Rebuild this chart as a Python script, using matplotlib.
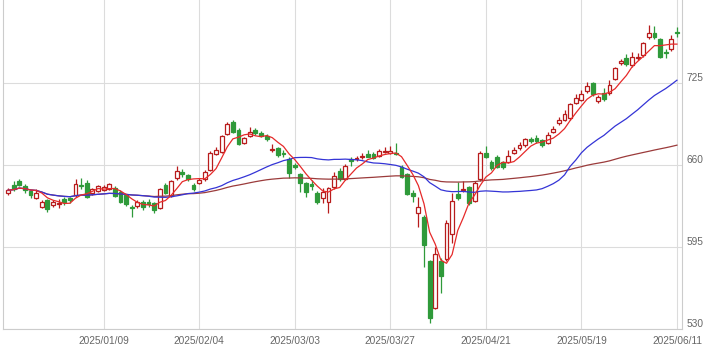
import numpy as np
import pandas as pd
import matplotlib
matplotlib.use("Agg")
import matplotlib.pyplot as plt

# daily OHLC (oldest -> newest)
open_ = [638, 644, 647, 643, 639, 634, 626.5, 632, 628, 629,
         633, 634, 636.5, 644, 646, 637.6, 639.4, 640.2, 640.7, 641.8,
         638.8, 636.2, 627, 627.7, 630.9, 631, 629.5, 625.7, 643.8, 635.8,
         649.5, 654.7, 651.7, 644.5, 646.1, 648.7, 656, 668.5, 670.6, 684.6,
         693.8, 688.1, 677.7, 683, 687.7, 685.6, 682.6, 672, 673.2, 669.9,
         664.5, 660, 652.9, 645.5, 645.3, 637.6, 633.6, 630.9, 642.3, 655.5,
         648.9, 664.5, 664.5, 666.1, 668.7, 668.7, 667.4, 670.4, 669.3, 669.9,
         658.7, 652.6, 638, 621.7, 618.5, 583.9, 546.4, 583.9, 585.2, 605.1,
         637, 639.8, 642.4, 631.5, 648.7, 669.3, 662.6, 666.6, 662.6, 662.6,
         669.8, 673.2, 675.9, 680.4, 681.2, 679.8, 677.7, 686.4, 693.1, 695.7,
         697, 709.4, 711.5, 718.3, 724.8, 710.5, 716.7, 716.7, 727.8, 740.6,
         745.1, 739.3, 744.7, 747.2, 761.2, 764.4, 759.6, 749.8, 751.7, 765.2]
high = [642, 647, 649, 645, 640, 641, 632, 633, 632, 633,
        635, 635, 649, 650, 648, 641.5, 644.5, 644, 646, 643,
        640, 637, 628.3, 632, 632, 633, 630.5, 641.5, 645.7, 648,
        659.2, 656.8, 653, 646, 649.5, 656, 671, 674.5, 684, 694.3,
        695.7, 689, 682.5, 690.1, 689.3, 687, 684.5, 676.6, 674.3, 671.9,
        666.3, 661.6, 654, 646.5, 648.1, 639, 641.8, 642.5, 654.7, 657.5,
        660.5, 666, 667.5, 669.8, 671.9, 670, 672.5, 674.5, 675.1, 677.2,
        660, 653.5, 640.2, 634.9, 620.4, 585, 595.2, 586, 616.4, 637.6,
        646.8, 647.6, 643.5, 647.3, 671, 675.1, 664, 668, 663.5, 671.9,
        674.5, 678.5, 681.5, 682.4, 683.8, 681, 686.4, 690.9, 697.8, 703.6,
        709, 716.3, 719.5, 726, 726, 715.5, 721, 727.4, 738, 744,
        747.8, 749.3, 748.8, 757.5, 771, 770.2, 761, 752, 763, 769.4]
low = [636, 639, 643, 638, 634, 633, 626, 623, 626.5, 626,
       628, 630, 635, 641, 634, 636.5, 638.5, 639, 640, 634.5,
       630, 627.5, 619, 626, 624, 626.7, 622, 625, 637, 635,
       648.5, 650.5, 647, 639.4, 645, 647.5, 655, 668, 669.5, 683.5,
       685.5, 675.5, 676.5, 682, 683.8, 682, 679, 670.3, 666.3, 666.3,
       649.5, 656.8, 638.8, 634.9, 640.2, 629, 630, 621.7, 641, 647.5,
       648, 659, 663.5, 665, 666, 664.5, 666.5, 669.5, 668.5, 668,
       649.5, 636, 630.9, 611.1, 579.4, 534.5, 545.5, 558.8, 584, 598.2,
       632, 638.6, 628, 630.5, 647.5, 665.5, 656, 657.5, 656.5, 661.5,
       669, 672, 674.5, 677.2, 677.2, 674.5, 676.5, 685.5, 692, 694.5,
       696, 708.5, 710.5, 717, 715, 709.5, 711, 715.5, 727, 739.5,
       738.5, 738, 743, 746, 760, 760, 744.5, 744.8, 750.5, 761.5]
close = [640, 641, 644, 640, 636, 638, 631, 625, 630.5, 630,
         631, 632, 645, 643, 635, 640.6, 643, 642.8, 645, 635.4,
         630.9, 629.1, 625.7, 630.9, 627.1, 629, 624.7, 640.7, 637.8, 647.3,
         655.5, 652.6, 648.9, 640.6, 648.5, 654.7, 669.9, 671.9, 683, 692.5,
         686.4, 676.6, 681.2, 686.4, 685.1, 683, 681, 673, 667.9, 668.7,
         653.4, 658.7, 645.5, 638.8, 643.4, 630.4, 638.8, 641.5, 651.3, 648.9,
         659.2, 663.2, 665.5, 667.1, 666.6, 665.3, 671.3, 671.2, 671.1, 668.7,
         650.7, 637, 635.4, 626.5, 596.6, 538.5, 589.2, 572.3, 613.8, 631.5,
         633.6, 640.6, 629.6, 645.5, 669.8, 666.6, 657.4, 658.7, 658.2, 667.4,
         671.9, 675.9, 680.4, 679.3, 679.3, 675.9, 683.8, 688.3, 695.7, 700.4,
         708.1, 713.4, 716.3, 722.4, 716.1, 714.1, 712.2, 723.4, 736.7, 742.8,
         739.7, 745.9, 745.3, 756.5, 764.4, 761.2, 745.4, 748.5, 759.6, 764.4]

date_labels = ["2025/01/09", "2025/02/04", "2025/03/03", "2025/03/27",
               "2025/04/21", "2025/05/19", "2025/06/11"]
price_ticks = [530, 595, 660, 725]

df = pd.DataFrame({"open": open_, "high": high, "low": low, "close": close})
n = len(df)
x = np.arange(n)

# moving averages (5 / 25 / 75 days)
ma5 = df["close"].rolling(5, min_periods=1).mean()
ma25 = df["close"].rolling(25, min_periods=1).mean()
ma75 = df["close"].rolling(75, min_periods=1).mean()

up = df["close"] >= df["open"]
red = "#b81c1c"
green = "#2f9a3a"

fig = plt.figure(figsize=(7.19, 3.52), dpi=100)
ax = fig.add_axes([3 / 719, 1 - 329 / 352, 679 / 719, 329 / 352])

# wicks
ax.vlines(x[up], df["low"][up], df["high"][up], colors=red, lw=0.9, zorder=2)
ax.vlines(x[~up], df["low"][~up], df["high"][~up], colors=green, lw=0.9, zorder=2)

# bodies
body_lo = np.minimum(df["open"], df["close"])
body_h = np.maximum(np.abs(df["close"] - df["open"]), 0.4)
ax.bar(x[up], body_h[up], bottom=body_lo[up], width=0.68,
       facecolor="white", edgecolor=red, linewidth=0.9, zorder=3)
ax.bar(x[~up], body_h[~up], bottom=body_lo[~up], width=0.68,
       facecolor=green, edgecolor=green, linewidth=0.9, zorder=3)

ax.plot(x, ma75, color="#9b3b3b", lw=0.9, zorder=4)
ax.plot(x, ma25, color="#3434d6", lw=0.9, zorder=4)
ax.plot(x, ma5, color="#e62a2a", lw=0.9, zorder=5)

ax.set_xlim(-0.9, n - 1 + 0.9)
ax.set_ylim(530, 790.8)

tick_idx = list(range(n - 1, -1, -17))[:len(date_labels)][::-1]
ax.set_xticks(tick_idx)
ax.set_xticklabels(date_labels)
ax.set_yticks(price_ticks)
ax.yaxis.tick_right()
for lab in ax.get_yticklabels():
    lab.set_verticalalignment("bottom")

ax.tick_params(axis="both", length=0, colors="#666666", labelsize=7.3)
ax.tick_params(axis="x", pad=5)
ax.tick_params(axis="y", pad=3)
for lab in ax.get_xticklabels() + ax.get_yticklabels():
    lab.set_fontfamily("Liberation Sans")

ax.grid(True, color="#dcdcdc", lw=0.8, zorder=0)
ax.set_axisbelow(True)
for side in ["left", "right", "bottom"]:
    ax.spines[side].set_color("#cccccc")
    ax.spines[side].set_linewidth(0.8)
ax.spines["top"].set_visible(False)

fig.savefig("out.png", dpi=100)
